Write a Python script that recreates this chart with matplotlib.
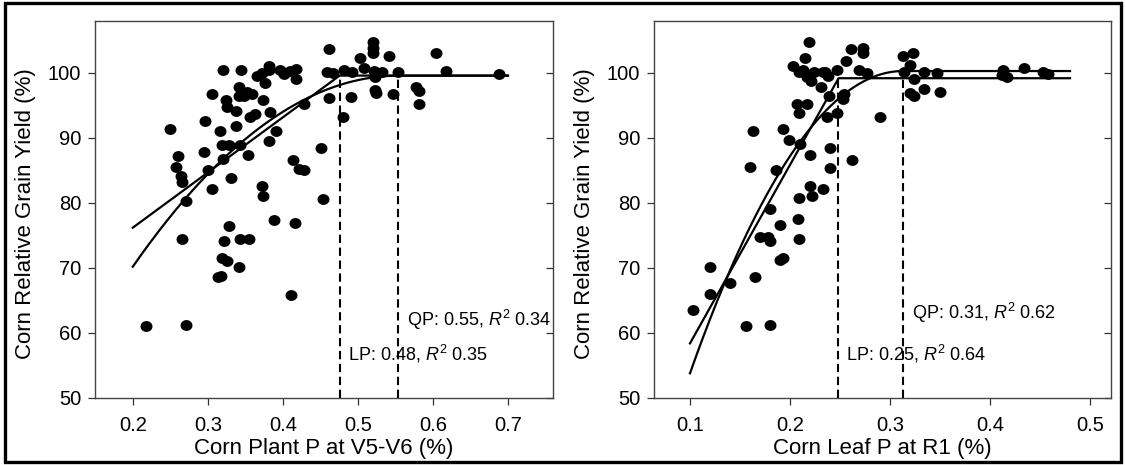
import matplotlib
matplotlib.use("Agg")
import matplotlib.pyplot as plt
import numpy as np
from matplotlib.path import Path
from matplotlib.patches import Rectangle

plt.rcParams["font.family"] = ["Liberation Sans", "DejaVu Sans"]
plt.rcParams["mathtext.fontset"] = "custom"
plt.rcParams["mathtext.rm"] = "Liberation Sans"
plt.rcParams["mathtext.it"] = "Liberation Sans:italic"

# corn plant P at V5-V6 (%) vs relative grain yield (%)
plant_p = [0.250, 0.260, 0.257, 0.264, 0.266, 0.271, 0.296, 0.295, 0.300, 0.305,
           0.305, 0.320, 0.316, 0.319, 0.328, 0.320, 0.331, 0.324, 0.325, 0.338,
           0.337, 0.343, 0.354, 0.344, 0.342, 0.341, 0.348, 0.352, 0.359, 0.356,
           0.363, 0.374, 0.366, 0.372, 0.381, 0.381, 0.376, 0.383, 0.391, 0.381,
           0.372, 0.373, 0.388, 0.396, 0.401, 0.410, 0.417, 0.417, 0.414, 0.422,
           0.428, 0.428, 0.416, 0.451, 0.454, 0.461, 0.459, 0.467, 0.461, 0.480,
           0.481, 0.491, 0.492, 0.503, 0.508, 0.520, 0.520, 0.520, 0.521, 0.523,
           0.532, 0.523, 0.524, 0.541, 0.554, 0.547, 0.578, 0.581, 0.581, 0.604,
           0.618, 0.688, 0.218, 0.265, 0.271, 0.314, 0.317, 0.319, 0.325, 0.322,
           0.328, 0.341, 0.343, 0.355, 0.411]
plant_yield = [91.4, 87.3, 85.6, 84.1, 83.3, 80.3, 92.6, 87.8, 85.1, 82.1,
               96.8, 100.5, 91.0, 88.9, 88.9, 86.8, 83.9, 95.9, 94.8, 94.2,
               91.9, 88.9, 87.4, 100.4, 97.8, 96.4, 96.4, 97.0, 96.8, 93.3,
               93.7, 95.9, 99.5, 100.0, 101.1, 100.4, 98.4, 94.0, 91.1, 89.6,
               82.6, 81.1, 77.4, 100.4, 99.9, 100.3, 100.6, 99.1, 86.6, 85.2,
               85.0, 95.3, 76.9, 88.5, 80.6, 103.7, 100.1, 100.0, 96.1, 93.2,
               100.5, 96.3, 100.1, 102.3, 100.7, 104.8, 103.8, 103.0, 100.3, 99.4,
               100.1, 97.4, 96.9, 102.6, 100.1, 96.8, 97.8, 97.2, 95.3, 103.1,
               100.3, 99.9, 61.0, 74.5, 61.3, 68.6, 68.7, 71.6, 71.1, 74.1,
               76.4, 70.2, 74.5, 74.4, 65.9]

# corn leaf P at R1 (%) vs relative grain yield (%)
leaf_p = [0.219, 0.215, 0.203, 0.209, 0.213, 0.217, 0.221, 0.224, 0.231, 0.233,
          0.238, 0.235, 0.247, 0.256, 0.261, 0.273, 0.273, 0.269, 0.277, 0.239,
          0.254, 0.253, 0.247, 0.237, 0.207, 0.217, 0.209, 0.163, 0.193, 0.199,
          0.210, 0.220, 0.240, 0.240, 0.262, 0.290, 0.160, 0.186, 0.220, 0.222,
          0.233, 0.209, 0.180, 0.190, 0.208, 0.313, 0.323, 0.320, 0.314, 0.334,
          0.324, 0.347, 0.320, 0.324, 0.334, 0.350, 0.413, 0.417, 0.412, 0.434,
          0.453, 0.458, 0.103, 0.120, 0.120, 0.140, 0.156, 0.165, 0.170, 0.178,
          0.180, 0.180, 0.190, 0.193, 0.209]
leaf_yield = [104.8, 102.3, 101.1, 100.1, 100.4, 99.4, 98.7, 100.1, 97.9, 100.1,
              99.6, 100.1, 100.5, 101.9, 103.7, 103.9, 103.1, 100.5, 100.0, 96.4,
              96.8, 96.0, 93.8, 93.3, 95.3, 95.3, 93.9, 91.1, 91.4, 89.7,
              89.0, 87.4, 88.5, 85.4, 86.6, 93.3, 85.6, 85.1, 82.6, 81.1,
              82.2, 80.7, 79.1, 76.6, 77.5, 102.6, 103.1, 101.2, 100.1, 100.1,
              99.0, 100.0, 96.9, 96.4, 97.5, 97.0, 100.5, 99.4, 99.7, 100.8,
              100.1, 99.9, 63.6, 70.1, 66.0, 67.7, 61.0, 68.6, 74.7, 74.7,
              74.1, 61.3, 71.2, 71.6, 74.4]

# fitted models: linear-plateau (intercept, slope, joint) and
# quadratic-plateau (a, b, c, joint); curves drawn from x_start to x_end
plant_lp = [59.22, 84.9, 0.4756]
plant_qp = [27.6, 259.9, -234.6, 0.554]
plant_range = [0.2, 0.70]
leaf_lp = [30.93, 274.7, 0.2485]
leaf_qp = [-0.12, 641.65, -1025.0, 0.313]
leaf_range = [0.1, 0.48]

plant_text = ["QP: 0.55, $R^2$ 0.34", "LP: 0.48, $R^2$ 0.35"]
leaf_text = ["QP: 0.31, $R^2$ 0.62", "LP: 0.25, $R^2$ 0.64"]


def lp_curve(p, x):
    a, b, j = p
    return np.where(x < j, a + b * x, a + b * j)


def qp_curve(p, x):
    a, b, c, j = p
    xc = np.minimum(x, j)
    return a + b * xc + c * xc ** 2


# slightly wide dot, as in the source figure
t = np.linspace(0, 2 * np.pi, 60)
dot = Path(np.column_stack([1.12 * np.cos(t), np.sin(t)]), closed=True)


def panel(ax, x, y, lp, qp, xr, texts, text_pos, xlim, xticks, xlabel):
    ax.plot(x, y, linestyle="none", marker=dot, markersize=7.6,
            color="black", zorder=3)
    xs = np.linspace(xr[0], xr[1], 400)
    ax.plot(xs, lp_curve(lp, xs), color="black", lw=1.6)
    ax.plot(xs, qp_curve(qp, xs), color="black", lw=1.6)
    for j, yj in [(lp[2], lp_curve(lp, np.array([lp[2]]))[0]),
                  (qp[3], qp_curve(qp, np.array([qp[3]]))[0])]:
        ax.plot([j, j], [50, yj], color="black", lw=1.5,
                linestyle=(0, (4, 2.2)))
    for s, (tx, ty) in zip(texts, text_pos):
        ax.text(tx, ty, s, fontsize=13, va="center", ha="left")

    ax.set_xlim(xlim)
    ax.set_ylim(50, 108)
    ax.set_xticks(xticks)
    ax.set_yticks([50, 60, 70, 80, 90, 100])
    ax.tick_params(axis="both", labelsize=14.5, length=5, width=0.9,
                   color="#333333")
    ax.tick_params(axis="x", pad=8)
    ax.tick_params(axis="y", pad=5)
    ax.tick_params(axis="y", which="both", right=True, direction="out")
    for side in ["left", "right", "top", "bottom"]:
        ax.spines[side].set_color("#444444")
        ax.spines[side].set_linewidth(1.0)
    ax.set_xlabel(xlabel, fontsize=16)
    ax.set_ylabel("Corn Relative Grain Yield (%)", fontsize=16)
    ax.xaxis.set_label_coords(0.5, -0.105)
    ax.yaxis.set_label_coords(-0.128, 0.49)


fig = plt.figure(figsize=(11.26, 4.65), dpi=100)
ax1 = fig.add_axes([0.0844, 0.1441, 0.4067, 0.8108])
ax2 = fig.add_axes([0.5808, 0.1441, 0.4059, 0.8108])

panel(ax1, plant_p, plant_yield, plant_lp, plant_qp, plant_range,
      plant_text, [(0.5653, 62.0), (0.4862, 56.8)], (0.1497, 0.76),
      [0.2, 0.3, 0.4, 0.5, 0.6, 0.7], "Corn Plant P at V5-V6 (%)")
panel(ax2, leaf_p, leaf_yield, leaf_lp, leaf_qp, leaf_range,
      leaf_text, [(0.322, 63.1), (0.2565, 56.8)], (0.064, 0.521),
      [0.1, 0.2, 0.3, 0.4, 0.5], "Corn Leaf P at R1 (%)")

# right-side ticks point inward, as in the source
for ax in (ax1, ax2):
    for tk in ax.yaxis.get_major_ticks():
        tk.tick2line.set_marker(matplotlib.lines.TICKLEFT)

fig.patches.append(Rectangle((0.004, 0.006), 0.992, 0.988, transform=fig.transFigure,
                             fill=False, edgecolor="black", linewidth=2.4))

fig.savefig("out.png", dpi=100)
